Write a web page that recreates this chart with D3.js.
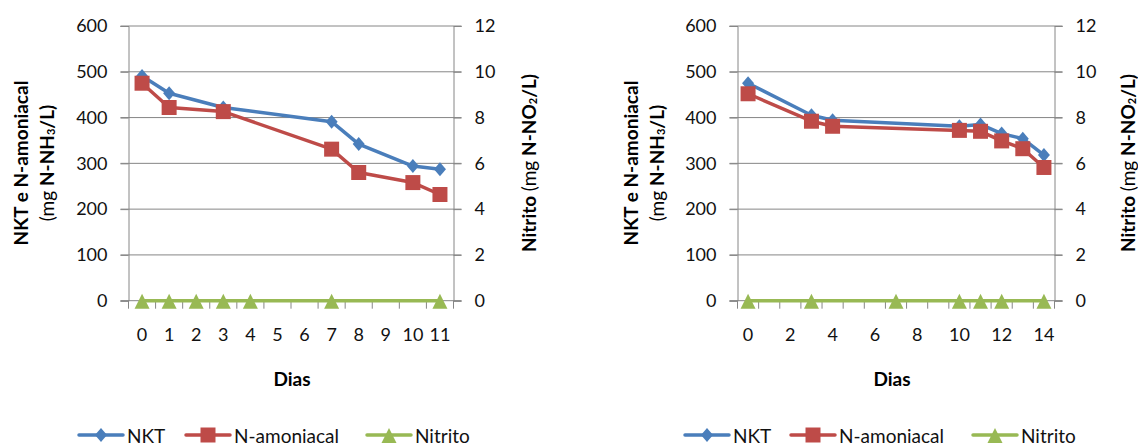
<!DOCTYPE html>
<html lang="pt">
<head>
  <meta charset="UTF-8">
  <title>NKT, N-amoniacal e Nitrito</title>
  <script src="https://cdn.jsdelivr.net/npm/d3@7"></script>
  <style>
    body { margin: 0; background: #fff; }
    svg { display: block; font-family: Lato, "Open Sans", sans-serif; }
  </style>
</head>
<body>
  <div id="container"></div>
  <script>
    // ---- dados ----
    const dias1 = ['0', '1', '2', '3', '4', '5', '6', '7', '8', '9', '10', '11']
    const nktDias1 = ['0', '1', '3', '7', '8', '10', '11']
    const nkt1 = [491, 453, 422, 391, 342, 294, 287]
    const amonDias1 = ['0', '1', '3', '7', '8', '10', '11']
    const amon1 = [475, 422, 413, 331, 280, 258, 232]
    const nitritoDias1 = ['0', '1', '2', '3', '4', '7', '11']
    const nitrito1 = [0, 0, 0, 0, 0, 0, 0]
    const xTicks1 = dias1

    const dias2 = ['0', '1', '2', '3', '4', '5', '6', '7', '8', '9', '10', '11', '12', '13', '14']
    const nktDias2 = ['0', '3', '4', '10', '11', '12', '13', '14']
    const nkt2 = [475, 405, 394, 381, 385, 365, 354, 318]
    const amonDias2 = ['0', '3', '4', '10', '11', '12', '13', '14']
    const amon2 = [452, 392, 381, 372, 370, 349, 332, 291]
    const nitritoDias2 = ['0', '3', '7', '10', '11', '12', '14']
    const nitrito2 = [0, 0, 0, 0, 0, 0, 0]
    const xTicks2 = ['0', '2', '4', '6', '8', '10', '12', '14']

    const yTicksLeft = [0, 100, 200, 300, 400, 500, 600]
    const yTicksRight = [0, 2, 4, 6, 8, 10, 12]
    const seriesNames = ['NKT', 'N-amoniacal', 'Nitrito']

    const colors = { NKT: '#4a7ebb', 'N-amoniacal': '#be4b48', Nitrito: '#98b954' }
    const markers = {
      NKT: 'M0,-7L6,0L0,7L-6,0Z',
      'N-amoniacal': 'M-7.5,-7.5L7.5,-7.5L7.5,7.5L-7.5,7.5Z',
      Nitrito: 'M0,-7L7.5,8L-7.5,8Z'
    }
    const gridColor = '#868686'

    const svg = d3.select('#container').append('svg')
      .attr('width', 1138)
      .attr('height', 447)

    function zip (dias, vals) {
      return dias.map((d, i) => ({ dia: d, v: vals[i] }))
    }

    function drawChart (cfg) {
      const g = svg.append('g')
      const x = d3.scaleBand().domain(cfg.dias).range([cfg.x0, cfg.x1])
      const y = d3.scaleLinear().domain([0, 600]).range([300.7, 26])
      const y2 = d3.scaleLinear().domain([0, 12]).range([300.7, 26])

      // grelha horizontal
      g.selectAll('.grid')
        .data(yTicksLeft)
        .enter()
        .append('line')
          .attr('x1', cfg.x0 - 8)
          .attr('x2', cfg.x1 + 8)
          .attr('y1', d => y(d))
          .attr('y2', d => y(d))
          .attr('stroke', gridColor)
          .attr('stroke-width', 1)

      // eixo esquerdo
      const axL = g.append('g')
        .attr('transform', `translate(${cfg.x0},0)`)
        .call(d3.axisLeft(y).tickValues(yTicksLeft).tickSize(8).tickPadding(13))
      // eixo direito
      const axR = g.append('g')
        .attr('transform', `translate(${cfg.x1},0)`)
        .call(d3.axisRight(y2).tickValues(yTicksRight).tickSize(8).tickPadding(13))
      // eixo x (rótulos no centro das categorias)
      const axB = g.append('g')
        .attr('transform', `translate(0,${y(0)})`)
        .call(d3.axisBottom(x).tickValues(cfg.xTicks).tickSize(0).tickPadding(28))

      ;[axL, axR, axB].forEach(ax => {
        ax.select('.domain').attr('stroke', gridColor)
        ax.selectAll('.tick line').attr('stroke', gridColor)
        ax.selectAll('text')
          .attr('font-size', 18)
          .attr('fill', '#111')
          .attr('font-family', 'Lato, sans-serif')
      })
      axB.select('.domain').remove()

      // marcas do eixo x nas fronteiras das categorias
      const bounds = cfg.dias.map(d => x(d)).concat([cfg.x1])
      g.selectAll('.xtick')
        .data(bounds)
        .enter()
        .append('line')
          .attr('x1', d => d)
          .attr('x2', d => d)
          .attr('y1', y(0))
          .attr('y2', y(0) + 8)
          .attr('stroke', gridColor)

      const line = d3.line()
        .x(d => x(d.dia) + x.bandwidth() / 2)
        .y(d => d.axis === 2 ? y2(d.v) : y(d.v))

      cfg.series.forEach(s => {
        const pts = zip(s.dias, s.vals).map(p => Object.assign(p, { axis: s.axis }))
        g.append('path')
          .datum(pts)
          .attr('d', line)
          .attr('fill', 'none')
          .attr('stroke', colors[s.name])
          .attr('stroke-width', 3.5)
          .attr('stroke-linejoin', 'round')
        g.selectAll(null)
          .data(pts)
          .enter()
          .append('path')
            .attr('d', markers[s.name])
            .attr('transform', d => `translate(${x(d.dia) + x.bandwidth() / 2},${s.axis === 2 ? y2(d.v) : y(d.v)})`)
            .attr('fill', colors[s.name])
      })

      // títulos dos eixos
      g.append('text')
        .attr('transform', `translate(${cfg.titleL1},163) rotate(-90)`)
        .attr('text-anchor', 'middle')
        .attr('dominant-baseline', 'central')
        .attr('font-size', 19)
        .attr('font-weight', 'bold')
        .text('NKT e N-amoniacal')

      const tL2 = g.append('text')
        .attr('transform', `translate(${cfg.titleL2},163) rotate(-90)`)
        .attr('text-anchor', 'middle')
        .attr('dominant-baseline', 'central')
        .attr('font-size', 19)
      tL2.append('tspan').text('(mg ')
      tL2.append('tspan').attr('font-weight', 'bold').text('N-NH')
      tL2.append('tspan').attr('font-weight', 'bold').attr('font-size', 11).attr('dy', 4).text('3')
      tL2.append('tspan').attr('font-weight', 'bold').attr('dy', -4).text('/L)')

      const tR = g.append('text')
        .attr('transform', `translate(${cfg.titleR},163) rotate(-90)`)
        .attr('text-anchor', 'middle')
        .attr('dominant-baseline', 'central')
        .attr('font-size', 19)
      tR.append('tspan').attr('font-weight', 'bold').text('Nitrito ')
      tR.append('tspan').text('(mg ')
      tR.append('tspan').attr('font-weight', 'bold').text('N-NO')
      tR.append('tspan').attr('font-weight', 'bold').attr('font-size', 11).attr('dy', 4).text('2')
      tR.append('tspan').attr('font-weight', 'bold').attr('dy', -4).text('/L)')

      g.append('text')
        .attr('x', cfg.diasX)
        .attr('y', 378)
        .attr('text-anchor', 'middle')
        .attr('dominant-baseline', 'central')
        .attr('font-size', 19)
        .attr('font-weight', 'bold')
        .text('Dias')

      // legenda
      const leg = g.selectAll('.leg')
        .data(seriesNames)
        .enter()
        .append('g')
          .attr('transform', (d, i) => `translate(${cfg.legX[i]},435)`)
      leg.append('line')
        .attr('x1', 0)
        .attr('x2', 44)
        .attr('stroke', d => colors[d])
        .attr('stroke-width', 3.5)
        .attr('stroke-linecap', 'round')
      leg.append('path')
        .attr('d', d => markers[d])
        .attr('transform', 'translate(22,0)')
        .attr('fill', d => colors[d])
      leg.append('text')
        .attr('x', 48)
        .attr('dominant-baseline', 'central')
        .attr('font-size', 19)
        .attr('fill', '#111')
        .text(d => d)
    }

    drawChart({
      dias: dias1, xTicks: xTicks1, x0: 128.5, x1: 453.5,
      titleL1: 20, titleL2: 46, titleR: 528, diasX: 292,
      legX: [79, 186, 367],
      series: [
        { name: 'NKT', dias: nktDias1, vals: nkt1, axis: 1 },
        { name: 'N-amoniacal', dias: amonDias1, vals: amon1, axis: 1 },
        { name: 'Nitrito', dias: nitritoDias1, vals: nitrito1, axis: 2 }
      ]
    })

    drawChart({
      dias: dias2, xTicks: xTicks2, x0: 737.5, x1: 1054.5,
      titleL1: 630, titleL2: 656, titleR: 1127, diasX: 892,
      legX: [685, 791, 973],
      series: [
        { name: 'NKT', dias: nktDias2, vals: nkt2, axis: 1 },
        { name: 'N-amoniacal', dias: amonDias2, vals: amon2, axis: 1 },
        { name: 'Nitrito', dias: nitritoDias2, vals: nitrito2, axis: 2 }
      ]
    })
  </script>
</body>
</html>
